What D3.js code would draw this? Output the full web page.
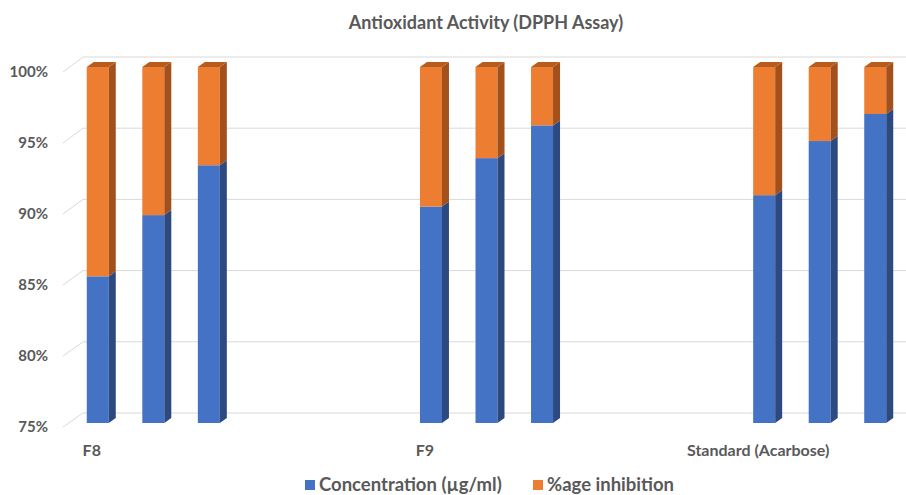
<!DOCTYPE html>
<html><head><meta charset="utf-8">
<script src="https://cdn.jsdelivr.net/npm/d3@7"></script>
<style>body{margin:0;background:#fff;} svg{display:block;} text{font-family:Lato,"Open Sans",sans-serif;font-weight:700;fill:#595959;}</style>
</head><body>
<svg id="c" width="906" height="495"></svg>
<script>
const title = "Antioxidant Activity (DPPH Assay)";
const categories = ["F8","","","","","","F9","","","","","","Standard (Acarbose)","",""];
const concentration = [85.3,89.6,93.1,null,null,null,90.2,93.6,95.9,null,null,null,91.0,94.8,96.7];
const inhibition    = [14.7,10.4,6.9,null,null,null,9.8,6.4,4.1,null,null,null,9.0,5.2,3.3];
const seriesNames = ["Concentration (µg/ml)","%age inhibition"];
const tickValues = [0.75,0.80,0.85,0.90,0.95,1.00];

const svg = d3.select("#c");
const W = 906, H = 495;
const front = {x0:63, y0:427, y1:72};
const back = {x0:83, y0:413, y1:57};
const yFront = d3.scaleLinear().domain([0.75,1]).range([front.y0,front.y1]);
const yBack = d3.scaleLinear().domain([0.75,1]).range([back.y0,back.y1]);
const yBar = d3.scaleLinear().domain([0.75,1]).range([423,67]);
const x = d3.scaleBand().domain(d3.range(categories.length)).range([70,903]).paddingInner(0).paddingOuter(0);
const barW = 22, dx = 7, dy = 5;
const colors = {front:["#4472C4","#ED7D31"], side:["#2C4A80","#A3501C"], top:["#3A63AD","#B85C1E"]};

// Title
svg.append("text").attr("x",486).attr("y",29).attr("text-anchor","middle").style("font-size","18px").text(title);

// gridlines (back wall) + side wall diagonals
const g = svg.append("g");
tickValues.forEach(v=>{
  g.append("line").attr("x1",back.x0).attr("x2",W).attr("y1",yBack(v)).attr("y2",yBack(v)).attr("stroke","#d9d9d9").attr("stroke-width",1);
  g.append("line").attr("x1",front.x0).attr("x2",back.x0).attr("y1",yFront(v)).attr("y2",yBack(v)).attr("stroke","#d9d9d9").attr("stroke-width",1);
});

// y axis labels
const yAxis = d3.axisLeft(yFront).tickValues(tickValues).tickFormat(d3.format(".0%")).tickSize(0).tickPadding(0);
const ya = svg.append("g").attr("transform","translate(48,0)").call(yAxis);
ya.select(".domain").remove();
ya.selectAll("text").style("font-size","15px").style("font-family","Lato,sans-serif").attr("fill","#595959");

// stacked data
const stackData = categories.map((c,i)=>({i, a: concentration[i], b: inhibition[i]})).filter(d=>d.a!=null);
const bars = svg.append("g");
stackData.forEach(d=>{
  const tot = d.a + d.b;
  const segs = [[0, d.a/tot],[d.a/tot, 1]];
  const bx = x(d.i) + (x.bandwidth()-barW)/2;
  segs.forEach((s,k)=>{
    const lo = Math.max(s[0],0.75), hi = s[1];
    if (hi <= 0.75) return;
    const yt = yBar(hi), yb = yBar(lo);
    bars.append("rect").attr("x",bx).attr("y",yt).attr("width",barW).attr("height",yb-yt).attr("fill",colors.front[k]);
    bars.append("path").attr("d",`M${bx+barW},${yt}L${bx+barW+dx},${yt-dy}L${bx+barW+dx},${yb-dy}L${bx+barW},${yb}Z`).attr("fill",colors.side[k]);
    if (k===1) {
      bars.append("path").attr("d",`M${bx},${yt}L${bx+barW},${yt}L${bx+barW+dx},${yt-dy}L${bx+dx},${yt-dy}Z`).attr("fill",colors.top[k]);
    }
  });
});

// category labels
const xAxis = svg.append("g");
categories.forEach((c,i)=>{
  if(!c) return;
  xAxis.append("text").attr("x",x(i)+x.bandwidth()/2-6).attr("y",456).attr("text-anchor","middle").style("font-size","16px").text(c);
});

// legend
const leg = svg.append("g");
const legX = [305,533];
seriesNames.forEach((n,k)=>{
  leg.append("rect").attr("x",legX[k]).attr("y",480).attr("width",10).attr("height",10).attr("fill",colors.front[k]);
  leg.append("text").attr("x",legX[k]+14).attr("y",491).style("font-size","18.5px").text(n);
});
</script>
</body></html>
